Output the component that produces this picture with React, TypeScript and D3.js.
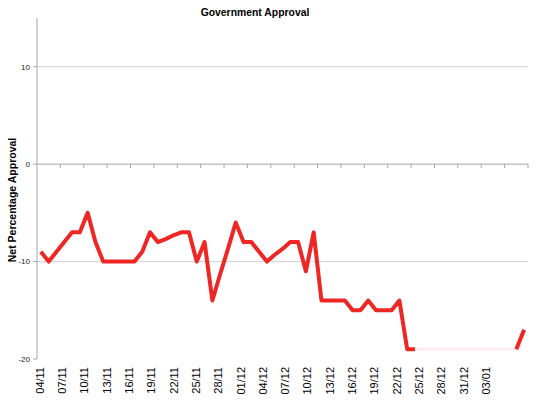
import * as d3 from "d3";

// net approval per poll, in poll order (category axis)
const approval: number[] = [
  -9, -10, -9, -8, -7, -7, -5, -8, -10, -10, -10, -10, -10, -9, -7, -8,
  -7.7, -7.3, -7, -7, -10, -8, -14, -11.3, -8.7, -6, -8, -8, -9, -10, -9.3, -8.7,
  -8, -8, -11, -7, -14, -14, -14, -14, -15, -15, -14, -15, -15, -15, -14, -19,
  -19, -19, -19, -19, -19, -19, -19, -19, -19, -19, -19, -19, -19, -19, -17,
];
// polls drawn only as a faint trace in the original
const faintFrom = 48;
const faintTo = 61;

const dateLabels = [
  "04/11", "07/11", "10/11", "13/11", "16/11", "19/11", "22/11", "25/11",
  "28/11", "01/12", "04/12", "07/12", "10/12", "13/12", "16/12", "19/12",
  "22/12", "25/12", "28/12", "31/12", "03/01",
];
const labelYears = [
  2010, 2010, 2010, 2010, 2010, 2010, 2010, 2010, 2010, 2010, 2010, 2010,
  2010, 2010, 2010, 2010, 2010, 2010, 2010, 2010, 2011,
];
const yTicks = [10, 0, -10, -20];

const W = 550;
const H = 400;
const margin = { top: 18, right: 22, bottom: 41, left: 37 };
const font = "'Liberation Sans', Arial, sans-serif";

export default function App() {
  const parse = d3.timeParse("%d/%m/%Y");

  const x = d3
    .scaleBand<number>()
    .domain(approval.map((_, i) => i))
    .range([margin.left, W - margin.right]);
  const cx = (i: number) => x(i)! + x.bandwidth() / 2;

  const xDate = d3
    .scaleTime()
    .domain([new Date(2010, 10, 4), new Date(2011, 0, 9)])
    .range([margin.left, W - margin.right]);

  const y = d3
    .scaleLinear()
    .domain([-20, 15])
    .range([H - margin.bottom, margin.top]);

  const line = d3
    .line<number>()
    .x((_, i) => cx(i))
    .y((d) => y(d));

  const redLine = d3
    .line<number>()
    .defined((_, i) => i <= faintFrom || i >= faintTo)
    .x((_, i) => cx(i))
    .y((d) => y(d));

  const catTicks = d3.range(3, approval.length + 1, 3);
  const step = x.step();

  return (
    <svg
      width={W}
      height={H}
      style={{ position: "absolute", left: 0, top: 0, background: "#fff" }}
      fontFamily={font}
    >
      <text x={255} y={16} textAnchor="middle" fontSize={10.4} fontWeight="bold" fill="#000">
        Government Approval
      </text>

      {/* gridlines */}
      {yTicks
        .filter((t) => t !== 0 && t !== -20)
        .map((t) => (
          <line
            key={t}
            x1={margin.left}
            x2={W - margin.right}
            y1={y(t)}
            y2={y(t)}
            stroke="#d4d4d4"
          />
        ))}

      {/* y axis */}
      <line x1={margin.left} x2={margin.left} y1={y(15)} y2={y(-20)} stroke="#a6a6a6" />
      {yTicks.map((t) => (
        <g key={t}>
          <line x1={margin.left - 4} x2={margin.left} y1={y(t)} y2={y(t)} stroke="#a6a6a6" />
          <text
            x={margin.left - 7}
            y={y(t)}
            dy="0.35em"
            textAnchor="end"
            fontSize={8}
            fill="#222"
          >
            {t}
          </text>
        </g>
      ))}
      <text
        transform={`translate(16,200) rotate(-90)`}
        textAnchor="middle"
        fontSize={10.5}
        fontWeight="bold"
        fill="#000"
      >
        Net Percentage Approval
      </text>

      {/* category axis crossing at zero */}
      <line x1={margin.left} x2={W - margin.right} y1={y(0)} y2={y(0)} stroke="#a6a6a6" />
      {catTicks.map((k) => (
        <line
          key={k}
          x1={margin.left + k * step}
          x2={margin.left + k * step}
          y1={y(0)}
          y2={y(0) + 4}
          stroke="#a6a6a6"
        />
      ))}

      {/* date labels */}
      {dateLabels.map((d, i) => {
        const dt = parse(`${d}/${labelYears[i]}`)!;
        const px = xDate(d3.timeHour.offset(dt, 9));
        return (
          <text
            key={d}
            transform={`translate(${px},${H - margin.bottom + 8}) rotate(-90)`}
            dy="0.35em"
            textAnchor="end"
            fontSize={11}
            fill="#000"
          >
            {d}
          </text>
        );
      })}

      <path d={line(approval) ?? ""} fill="none" stroke="#fbe9e9" strokeWidth={2} />
      <path
        d={redLine(approval) ?? ""}
        fill="none"
        stroke="#ee2624"
        strokeWidth={4}
        strokeLinejoin="round"
      />
    </svg>
  );
}
